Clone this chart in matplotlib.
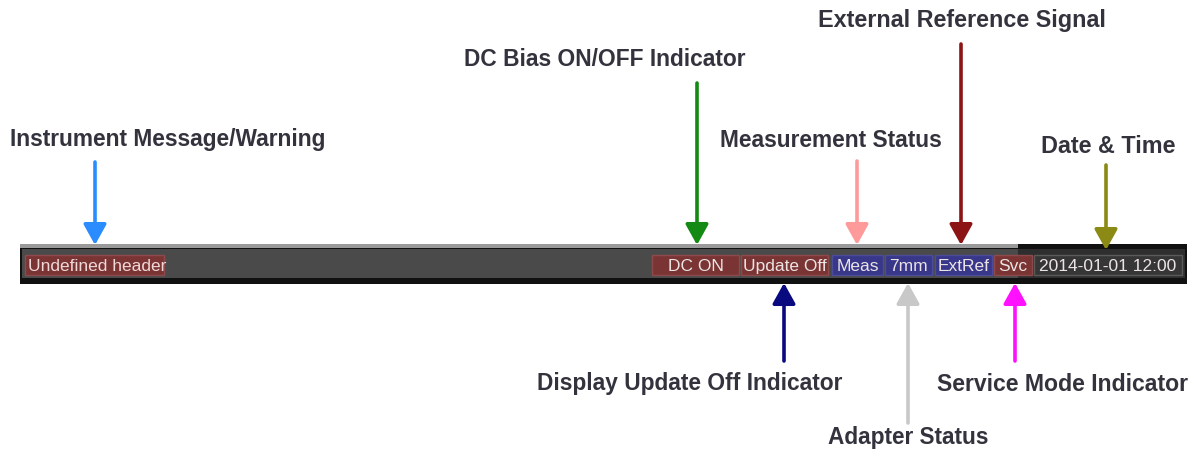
import matplotlib.pyplot as plt
from matplotlib.patches import Rectangle, FancyArrowPatch

# Status bar segments (text, left px, right px, kind)
seg_text = ["Undefined header", "DC ON", "Update Off", "Meas", "7mm", "ExtRef", "Svc", "2014-01-01 12:00"]
seg_left = [25, 652, 741, 832, 885, 935, 994, 1034]
seg_right = [164, 739, 828, 883, 932, 992, 1032, 1182]
seg_kind = ["red", "red", "red", "blue", "blue", "blue", "red", "dark"]

# Callouts above the bar
top_labels = ["Instrument Message/Warning", "DC Bias ON/OFF Indicator", "Measurement Status",
              "External Reference Signal", "Date & Time"]
top_arrow_x = [95, 697, 857, 961, 1106]
top_arrow_y0 = [163, 84, 162, 45, 166]
top_arrow_y1 = [246, 246, 246, 246, 251]
top_text_x = [10, 464, 720, 818, 1041]
top_text_w = [318, 282, 224, 290, 135]
top_text_y = [140, 60, 141, 21, 147]
top_colors = ["#2b8cff", "#138a13", "#ff9a9a", "#8c1414", "#8a8a14"]

# Callouts below the bar
bot_labels = ["Display Update Off Indicator", "Adapter Status", "Service Mode Indicator"]
bot_arrow_x = [784, 908, 1015]
bot_arrow_y0 = [362, 424, 362]
bot_text_x = [537, 828, 937]
bot_text_w = [308, 162, 253]
bot_text_y = [384, 438, 385]
bot_colors = ["#0a0a80", "#c8c8c8", "#ff10ff"]

fill = {"red": "#7b3434", "blue": "#38378a", "dark": "#363636"}
edge = {"red": "#8e4a4a", "blue": "#4c4c9a", "dark": "#5a5a5a"}
FONT = ["Liberation Sans", "DejaVu Sans"]

fig = plt.figure(figsize=(11.98, 4.52), dpi=100)
ax = fig.add_axes([0, 0, 1, 1])
ax.set_xlim(0, 1198)
ax.set_ylim(452, 0)
ax.axis("off")
renderer = fig.canvas.get_renderer()

# bar body
ax.add_patch(Rectangle((20, 245), 1167, 40, facecolor="#111111", edgecolor="none"))
ax.add_patch(Rectangle((20, 245), 998, 4, facecolor="#9a9a9a", edgecolor="none"))
ax.add_patch(Rectangle((22, 250), 1163, 29, facecolor="#4a4a4a", edgecolor="none"))
ax.add_patch(Rectangle((1018, 250), 167, 29, facecolor="#2e2e2e", edgecolor="none"))

for t, x0, x1, k in zip(seg_text, seg_left, seg_right, seg_kind):
    ax.add_patch(Rectangle((x0, 256), x1 - x0, 20, facecolor=fill[k], edgecolor=edge[k], lw=1))
    if t == "Undefined header":
        ax.text(x0 + 3, 266.5, t, ha="left", va="center", color="#eed8d8", fontsize=12.5, family=FONT)
    else:
        ax.text((x0 + x1) / 2, 266.5, t, ha="center", va="center", color="#ece4e4", fontsize=12.5, family=FONT)


def arrow(x, y0, y1, c):
    ax.add_patch(FancyArrowPatch((x, y0), (x, y1), arrowstyle="-|>,head_length=0.9,head_width=0.5",
                                 mutation_scale=14, color=c, lw=2.6, shrinkA=0, shrinkB=0))


def label(x, y, s, width):
    # scale the font so the label spans the same width as in the reference
    t = ax.text(x, y, s, ha="left", va="center", fontsize=15, fontweight="bold", color="#33333d", family=FONT)
    w = t.get_window_extent(renderer).width
    t.set_fontsize(15 * width / w)


for lab, x, y0, y1, tx, tw, ty, c in zip(top_labels, top_arrow_x, top_arrow_y0, top_arrow_y1,
                                         top_text_x, top_text_w, top_text_y, top_colors):
    arrow(x, y0, y1, c)
    label(tx, ty, lab, tw)

for lab, x, y0, tx, tw, ty, c in zip(bot_labels, bot_arrow_x, bot_arrow_y0, bot_text_x, bot_text_w,
                                     bot_text_y, bot_colors):
    arrow(x, y0, 284, c)
    label(tx, ty, lab, tw)

fig.savefig("out.png", dpi=100)
